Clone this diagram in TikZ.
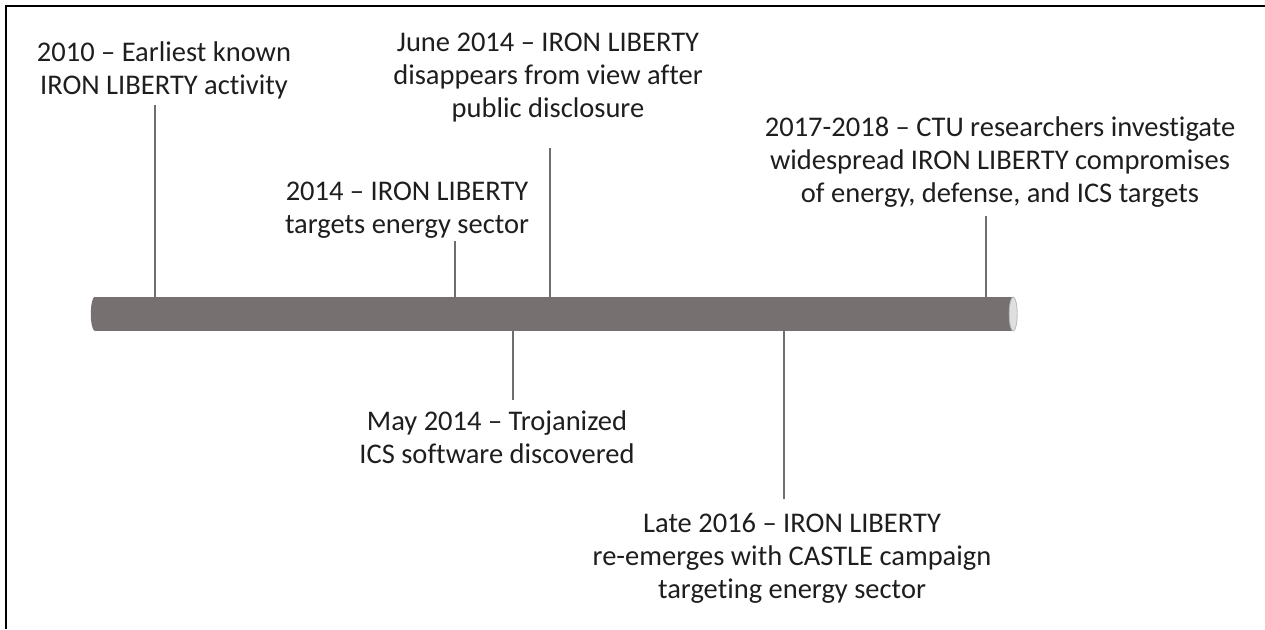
\documentclass[tikz,border=0pt]{standalone}
\usepackage{fontspec}
\setmainfont{Carlito}[Ligatures=NoCommon]

\definecolor{barGray}{HTML}{767070}
\definecolor{stemGray}{HTML}{6E6E6E}
\definecolor{textDark}{HTML}{1E1E1E}

\begin{document}
\begin{tikzpicture}[
    x=1pt, y=-1pt,
    event/.style={align=center, anchor=base, inner sep=0pt, text=textDark,
      font=\fontsize{28.5}{33}\selectfont},
    stem/.style={draw=stemGray, line width=2pt},
    timebar/.style={rectangle, inner sep=0pt, fill=barGray,
      minimum width=918pt, minimum height=34pt}
  ]
    \useasboundingbox (0,0) rectangle (1265,629);
    \draw[line width=1.5pt] (6,629) -- (6,6) -- (1265,6);

    % the time line
    \node[timebar] (bar) at (554,314) {};
    \fill[barGray] (bar.north west) arc[start angle=270, end angle=90, x radius=4, y radius=17];
    \filldraw[fill=gray!25, draw=gray!55, line width=0.8pt] (bar.east) ellipse[x radius=4, y radius=17];

    % events above the bar
    \node[event] (ev2010) at (164,94) {2010 – Earliest known\\IRON LIBERTY activity};
    \node[event] (ev2014) at (407,233) {2014 – IRON LIBERTY\\targets energy sector};
    \node[event] (evJune) at (548,117) {June 2014 – IRON LIBERTY\\disappears from view after\\public disclosure};
    \node[event] (ev2017) at (1000,202) {2017-2018 – CTU researchers investigate\\widespread IRON LIBERTY compromises\\of energy, defense, and ICS targets};

    % events below the bar
    \node[event] (evMay) at (497,463) {May 2014 – Trojanized\\ICS software discovered};
    \node[event] (evLate) at (792,598) {Late 2016 – IRON LIBERTY\\re-emerges with CASTLE campaign\\targeting energy sector};

    \coordinate (p2010) at (155,105);
    \coordinate (p2014) at (455,241);
    \coordinate (pJune) at (550,148);
    \coordinate (p2017) at (986,216);
    \coordinate (pMay) at (513,400);
    \coordinate (pLate) at (784,499);

    \draw[stem] (p2010) -- (p2010 |- bar.north);
    \draw[stem] (p2014) -- (p2014 |- bar.north);
    \draw[stem] (pJune) -- (pJune |- bar.north);
    \draw[stem] (p2017) -- (p2017 |- bar.north);
    \draw[stem] (pMay) -- (pMay |- bar.south);
    \draw[stem] (pLate) -- (pLate |- bar.south);
\end{tikzpicture}
\end{document}
